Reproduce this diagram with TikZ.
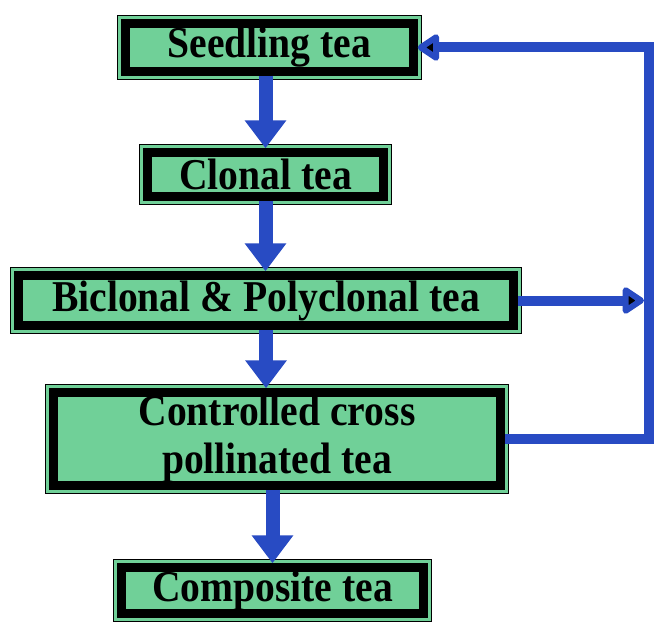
\documentclass[tikz,border=0pt]{standalone}
\usepackage{fontspec}
\newfontfamily\boxfont{Liberation Serif}[FakeStretch=0.9]
\usetikzlibrary{arrows.meta}
\definecolor{boxgreen}{RGB}{112,208,152}
\definecolor{flowblue}{RGB}{40,75,195}
\newcommand\teaframe[4]{\draw[line width=1.4pt, fill=boxgreen] (#1+0.7,#2+0.7) rectangle (#3-0.7,#4-0.7);}
\begin{document}
\begin{tikzpicture}[x=1pt,y=-1pt,
  teabox/.style={draw=black, line width=8.5pt, fill=boxgreen, inner sep=0pt, align=center,
    font=\boxfont\bfseries\fontsize{44pt}{48pt}\selectfont},
  downarrow/.style={draw=flowblue, line width=14pt, -{Triangle[length=28pt,width=40pt]}},
  feedback/.style={draw=flowblue, line width=10pt, -{Triangle[length=24pt,width=30pt,fill=black,line width=8pt,round]}}
]
\useasboundingbox (0,0) rectangle (655,623);
\fill[white] (0,0) rectangle (655,623);
% outer thin frames
\teaframe{117}{15}{422}{80}
\teaframe{139}{144}{392}{205}
\teaframe{10}{267}{522}{334}
\teaframe{45}{384}{509}{494}
\teaframe{113}{559}{432}{622}
% boxes
\node[teabox, minimum width=288pt, minimum height=48pt] (seed) at (269.5,47.5) {Seedling tea};
\node[teabox, minimum width=236pt, minimum height=44pt] (clonal) at (265.5,174.5) {Clonal tea};
\node[teabox, minimum width=495pt, minimum height=50pt] (bic) at (266,300.5) {Biclonal \& Polyclonal tea};
\node[teabox, minimum width=447pt, minimum height=93pt] (ctrl) at (277,439) {Controlled cross\\pollinated tea};
\node[teabox, minimum width=302pt, minimum height=46pt] (comp) at (272.5,590.5) {Composite tea};
% down arrows
\draw[downarrow] (seed.south -| clonal.north) -- (clonal.north);
\draw[downarrow] (clonal.south) -- (clonal.south |- bic.north);
\draw[downarrow] (bic.south) -- (bic.south |- ctrl.north);
\draw[downarrow] (comp.north |- ctrl.south) -- (comp.north);
% feedback
\coordinate (rt) at (649,44);
\coordinate (bt) at (644,0);
\draw[feedback] (ctrl.east) -- (ctrl.east -| rt) |- (seed.east);
\draw[feedback] (bic.east) -- (bic.east -| bt);
\end{tikzpicture}
\end{document}
